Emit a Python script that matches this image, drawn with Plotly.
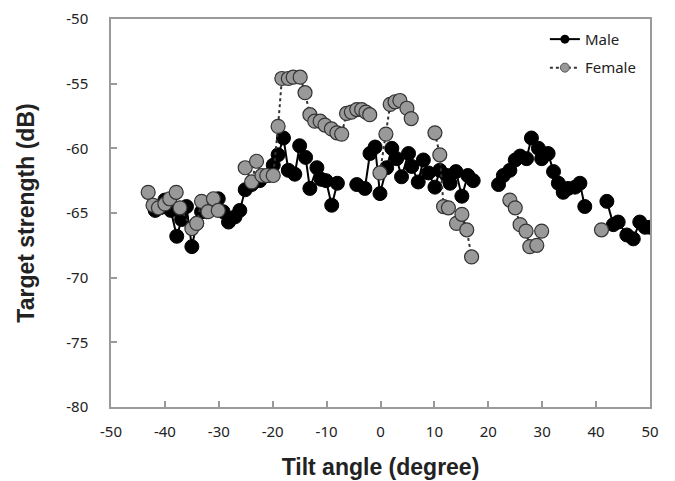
import plotly.graph_objects as go

# Male data (tilt angle in degrees, target strength in dB); None = break in line
male_x = [-41.8, -40.9, -40.0, -38.9, -37.8, -36.9, -36.0, -35.0, -34.1, -33.2, -32.3, -31.5,
          -30.1, -29.2, -28.2, -27.0, -26.1, -25.1, -23.9, -22.4, -20.8, -19.9, -19.0, -18.0,
          -17.1, -15.9, -15.0, -13.9, -13.1, -11.8, -11.0, -10.1, -9.05, -8.0,
          -6.0,
          -4.4, -2.9, -1.95, -1.0, -0.1, 1.15, 2.1, 3.0, 3.9, 5.2, 5.8, 7.0, 7.95, 8.9, 10.1,
          11.0, 12.3, 12.9, 14.0, 15.1, 16.2, 17.2,
          19.5,
          21.9, 22.8, 24.0, 25.0, 25.9, 27.1, 28.0, 29.3, 29.9, 31.1, 32.1, 33.0, 33.9, 34.8,
          36.1, 37.0, 37.9,
          40.0,
          42.0, 43.2, 44.1, 45.7, 46.9, 48.1, 49.1, 50.0]
male_y = [-64.8, -64.6, -64.0, -64.8, -66.8, -65.5, -64.5, -67.6, -65.8, -64.9, -64.9, -64.2,
          -63.9, -64.9, -65.7, -65.3, -64.8, -63.2, -62.8, -62.5, -62.1, -61.3, -60.5, -59.2,
          -61.7, -62.0, -59.8, -60.7, -63.1, -61.5, -62.4, -62.5, -64.4, -62.7,
          None,
          -62.8, -63.1, -60.4, -59.9, -63.5, -61.5, -60.0, -60.8, -62.2, -60.4, -61.4, -62.6,
          -60.9, -61.9, -63.0, -61.7, -62.1, -62.7, -61.8, -63.7, -62.1, -62.5,
          None,
          -62.8, -62.1, -61.7, -60.9, -60.6, -60.8, -59.2, -60.0, -60.8, -60.4, -61.8, -62.7,
          -63.4, -63.1, -63.0, -62.7, -64.5,
          None,
          -64.1, -65.9, -65.7, -66.7, -67.0, -65.7, -66.1, -66.1]

# Female data
female_x = [-43.1, -42.2, -41.2, -40.0, -39.1, -37.9, -37.2, -35.0, -34.1, -33.2, -32.0,
            -31.0, -30.1,
            -27.5,
            -25.1, -23.9, -23.0, -22.0, -21.1, -19.9, -19.0, -18.3, -17.1, -16.2, -14.9,
            -14.0, -13.1, -12.2, -11.2, -10.3, -9.1, -8.1, -7.2, -6.3, -5.4, -4.4, -3.5,
            -2.7, -2.0,
            -1.0,
            -0.1, 1.0, 1.8, 2.7, 3.6, 4.9, 5.7,
            8.0,
            10.1, 11.0, 11.7, 12.6, 14.1, 15.1, 16.0, 16.9,
            20.0,
            24.0, 25.0, 25.9, 27.0, 27.7, 29.0, 29.9,
            35.0,
            41.0]
female_y = [-63.4, -64.4, -64.6, -64.3, -63.9, -63.4, -64.6, -66.2, -65.8, -64.1, -64.9,
            -63.9, -64.8,
            None,
            -61.5, -62.6, -61.0, -62.1, -62.1, -62.1, -58.3, -54.6, -54.6, -54.5, -54.5,
            -55.7, -57.4, -57.9, -57.9, -58.2, -58.5, -58.8, -58.9, -57.3, -57.2, -57.0,
            -57.0, -57.2, -57.4,
            None,
            -61.9, -58.9, -56.6, -56.4, -56.3, -56.9, -57.7,
            None,
            -58.8, -60.5, -64.5, -64.6, -65.8, -65.1, -66.3, -68.4,
            None,
            -64.0, -64.6, -65.9, -66.4, -67.6, -67.5, -66.4,
            None,
            -66.3]

x_ticks = [-50, -40, -30, -20, -10, 0, 10, 20, 30, 40, 50]
y_ticks = [-80, -75, -70, -65, -60, -55, -50]

fig = go.Figure()

fig.add_trace(go.Scatter(
    x=male_x, y=male_y, mode="lines+markers", name="Male", showlegend=False,
    line=dict(color="black", width=2),
    marker=dict(size=14, color="black", line=dict(color="black", width=1)),
))
fig.add_trace(go.Scatter(
    x=female_x, y=female_y, mode="lines+markers", name="Female", showlegend=False,
    line=dict(color="#333333", width=2, dash="dot"),
    marker=dict(size=14, color="#999999", line=dict(color="#333333", width=1.2)),
))
# legend entries with smaller symbols
fig.add_trace(go.Scatter(
    x=[None], y=[None], mode="lines+markers", name="Male", legendgroup="m",
    line=dict(color="black", width=2),
    marker=dict(size=9, color="black"),
))
fig.add_trace(go.Scatter(
    x=[None], y=[None], mode="lines+markers", name="Female", legendgroup="f",
    line=dict(color="#333333", width=2, dash="dot"),
    marker=dict(size=9, color="#999999", line=dict(color="#555555", width=1)),
))

axis_common = dict(
    showline=True, linecolor="#9a9a9a", linewidth=1.5, mirror=True,
    ticks="inside", ticklen=6, tickcolor="#9a9a9a", tickwidth=1.5,
    showgrid=False, zeroline=False, automargin=False,
    tickfont=dict(family="Noto Sans", size=15, color="#222222"),
)

fig.update_xaxes(
    range=[-50, 50], tickvals=x_ticks, ticktext=[str(v) for v in x_ticks],
    ticklabelstandoff=10,
    title=dict(text="Tilt angle (degree)", standoff=19,
               font=dict(family="Liberation Sans", size=23, color="#222222", weight="bold")),
    **axis_common,
)
fig.update_yaxes(
    range=[-80, -50], tickvals=y_ticks, ticktext=[str(v) for v in y_ticks],
    ticklabelstandoff=18,
    title=dict(text="Target strength (dB)", standoff=25,
               font=dict(family="Liberation Sans", size=23, color="#222222", weight="bold")),
    **axis_common,
)

fig.update_layout(
    width=675, height=481,
    margin=dict(l=103, r=33, t=11, b=82),
    paper_bgcolor="white", plot_bgcolor="white",
    legend=dict(x=0.805, y=0.99, xanchor="left", yanchor="top",
                font=dict(family="Noto Sans", size=15, color="#222222"),
                bgcolor="rgba(0,0,0,0)", tracegroupgap=6, itemwidth=30),
)

fig.write_html("out.html")
